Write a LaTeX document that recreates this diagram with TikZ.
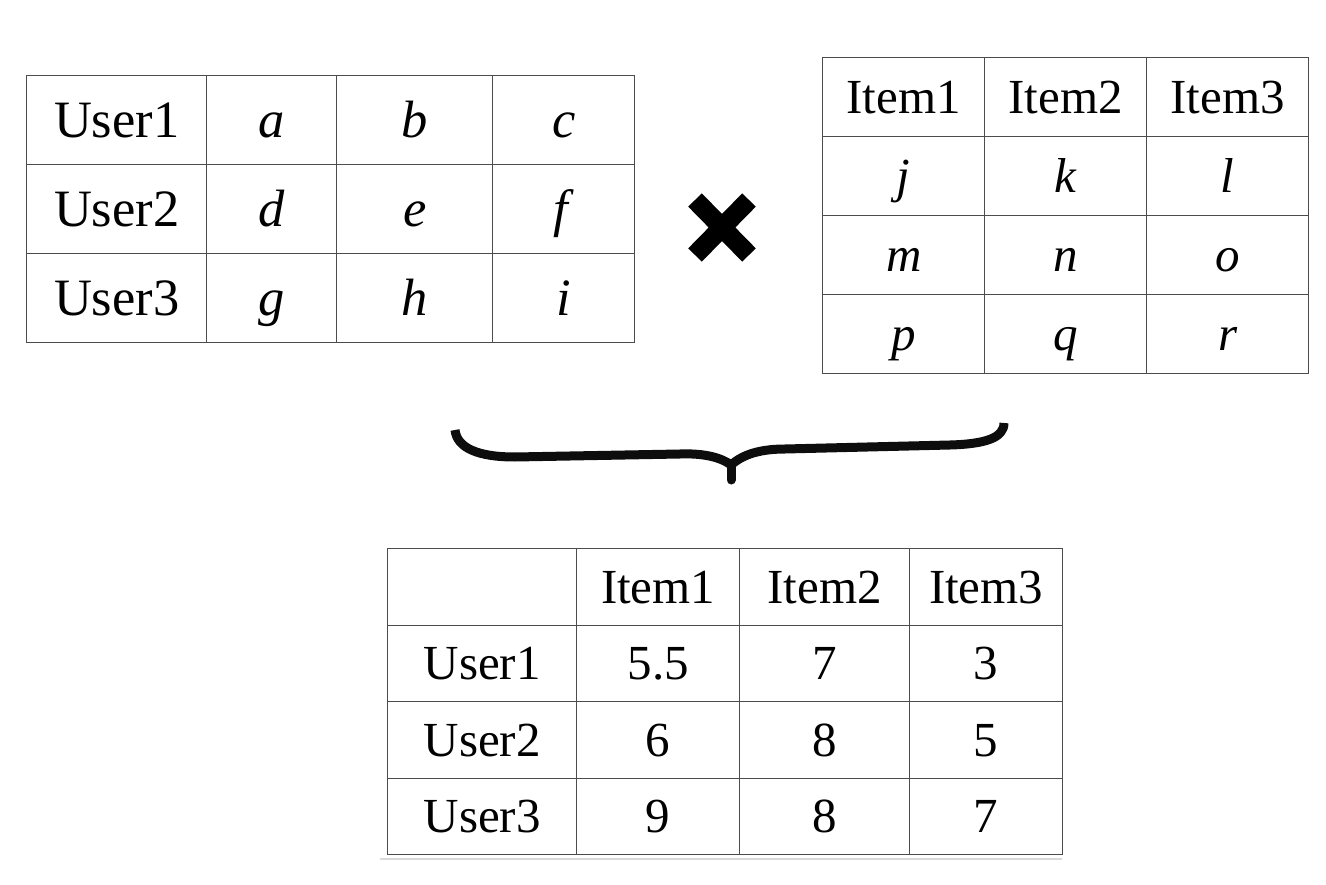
\documentclass[tikz,border=0pt]{standalone}
\usepackage{fontspec}
\setmainfont{Liberation Serif}
\usetikzlibrary{matrix,positioning}

\begin{document}
\begin{tikzpicture} [x=1pt, y=-1pt,
				grid/.style={
				% The layout:
				matrix of nodes,
				nodes in empty cells,
				inner sep=0pt,
				column sep=-1pt, row sep=-1pt,
				nodes={
				% The shape:
				rectangle,
				% The border:
     				draw=black!70, line width=1pt,
				outer sep=0pt, inner sep=0pt,
				% The text:
				text height=32.4pt, text depth=0pt,
				anchor=center,
				font=\fontsize{49}{58}\selectfont
				}
    				},
				times/.style={
				% The stroke:
				line width=19pt,
				draw=black
				},
				brace/.style={
				% The stroke:
				line width=9pt,
				draw=black!95,
				line join=round
				},
				]
    \useasboundingbox (0,0) rectangle (1326,885);
    % users x latent factors
    \matrix (users) [grid, matrix anchor=north west,
        nodes={minimum height=89pt, text height=35pt, font=\fontsize{52.5}{62}\selectfont},
        column 1/.style={nodes={minimum width=180pt}},
        column 2/.style={nodes={minimum width=130pt}},
        column 3/.style={nodes={minimum width=156pt}},
        column 4/.style={nodes={minimum width=142pt}}] at (26,75) {
        User1 & \textit{a} & \textit{b} & \textit{c} \\
        User2 & \textit{d} & \textit{e} & \textit{f} \\
        User3 & \textit{g} & \textit{h} & \textit{i} \\
    };
    % latent factors x items
    \matrix (items) [grid, matrix anchor=north west,
        nodes={minimum height=79pt, minimum width=162pt}] at (822,57) {
        Item1 & Item2 & Item3 \\
        \textit{j} & \textit{k} & \textit{l} \\
        \textit{m} & \textit{n} & \textit{o} \\
        \textit{p} & \textit{q} & \textit{r} \\
    };
    % product
    \matrix (ratings) [grid, matrix anchor=north west,
        nodes={minimum height=76.5pt},
        column 1/.style={nodes={minimum width=189pt}},
        column 2/.style={nodes={minimum width=163pt}},
        column 3/.style={nodes={minimum width=170pt}},
        column 4/.style={nodes={minimum width=153pt}}] at (387,548) {
              & Item1 & Item2 & Item3 \\
        User1 & 5.5   & 7     & 3     \\
        User2 & 6     & 8     & 5     \\
        User3 & 9     & 8     & 7     \\
    };
    \draw [black!15, line width=1.2pt] (380,859) -- (1062,859);
    % multiplication sign
    \draw [times] (695,200) -- (749,255) (749,200) -- (695,255);
    % the brace
    \coordinate (tip) at (731,465);
    \draw [brace] (455,430) .. controls (457,448) and (478,457) .. (515,457)
        -- (680,454) .. controls (705,453) and (722,458) .. (tip)
        .. controls (740,457) and (755,449) .. (785,449)
        -- (950,445) .. controls (985,444) and (1004,438) .. (1004,423);
    \draw [brace, line cap=round] (tip) -- ++(0,15);
\end{tikzpicture}
\end{document}
